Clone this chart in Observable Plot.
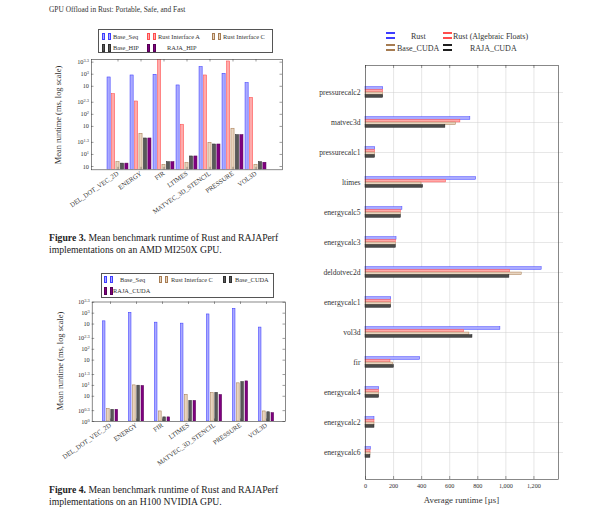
<!DOCTYPE html>
<html><head><meta charset="utf-8">
<script src="https://cdn.jsdelivr.net/npm/d3@7"></script>
<script src="https://cdn.jsdelivr.net/npm/@observablehq/plot@0.6"></script>
<style>
body{margin:0;background:#fff;}
#page{position:relative;width:600px;height:513px;overflow:hidden;background:#fff;font-family:"Liberation Serif","DejaVu Serif",serif;color:#222;}
.abs{position:absolute;white-space:nowrap;line-height:1;}
</style></head><body><div id="page"></div>
<script>
// ---------- data ----------
const fig3Cats = ["DEL_DOT_VEC_2D","ENERGY","FIR","LTIMES","MATVEC_3D_STENCIL","PRESSURE","VOL3D"];
const fig3Series = ["Base_Seq","Rust Interface A","Rust Interface C","Base_HIP","RAJA_HIP"];
const fig3BaseSeq = [830, 931, 969, 525, 1503, 1026, 600];
const fig3RustA   = [319, 209, 2600, 55, 931, 2080, 258];
const fig3RustC   = [6.4, 32.7, 5.5, 6.1, 19.5, 43.7, 5.5];
const fig3BaseHIP = [5.9, 25, 6.4, 8.9, 17.7, 30.3, 6.4];
const fig3RajaHIP = [5.9, 25, 6.4, 8.9, 17.7, 30.3, 6.2];
const fig3YTicks = [5, 10, 20, 50, 100, 200, 500, 1000, 2000];
const fig3YExps  = ["0.7","1","1.3","1.7","2","2.3","2.7","3","3.3"];

const fig4Cats = ["DEL_DOT_VEC_2D","ENERGY","FIR","LTIMES","MATVEC_3D_STENCIL","PRESSURE","VOL3D"];
const fig4Series = ["Base_Seq","Rust Interface C","Base_CUDA","RAJA_CUDA"];
const fig4BaseSeq  = [594, 1023, 546, 513, 922, 1315, 399];
const fig4RustC    = [2.2, 10, 1.9, 5.5, 6.1, 11.4, 1.9];
const fig4BaseCUDA = [2.1, 9.8, 1.3, 3.7, 6.2, 12.3, 1.8];
const fig4RajaCUDA = [2.1, 9.6, 1.3, 3.7, 5.4, 12.9, 1.7];
const fig4YTicks = [1, 2, 5, 10, 20, 50, 100, 200, 500, 1000, 2000];
const fig4YExps  = ["0","0.3","0.7","1","1.3","1.7","2","2.3","2.7","3","3.3"];

const kernels = ["pressurecalc2","matvec3d","pressurecalc1","ltimes","energycalc5","energycalc3","deldotvec2d","energycalc1","vol3d","fir","energycalc4","energycalc2","energycalc6"];
const rtSeries = ["Rust","Rust (Algebraic Floats)","Base_CUDA","RAJA_CUDA"];
const rtRust     = [126, 747, 69, 788, 263, 221, 1255, 183, 961, 389, 97, 64, 38];
const rtRustAF   = [126, 676, 69, 574, 252, 216, 1030, 183, 702, 178, 97, 64, 36];
const rtBaseCUDA = [126, 645, 68, 399, 252, 216, 1113, 183, 740, 197, 97, 64, 36];
const rtRajaCUDA = [126, 569, 68, 410, 252, 216, 1025, 183, 762, 202, 97, 64, 35];
const rtXTicks = [0, 200, 400, 600, 800, 1000, 1200];

// ---------- styles ----------
const FONT = '"Liberation Serif","DejaVu Serif",serif';
const BLUE = {fill:"#aaaaff", stroke:"#3d3dff"};
const RED = {fill:"#ffaaaa", stroke:"#ff4d4d"};
const TAN = {fill:"#e8d4bf", stroke:"#a67c52"};
const GRAY = {fill:"#595959", stroke:"#303030"};
const PURPLE = {fill:"#800080", stroke:"#550055"};
const DARK = {fill:"#4a4a4a", stroke:"#1f1f1f"};
const fig3Styles = [BLUE, RED, TAN, GRAY, PURPLE];
const fig4Styles = [BLUE, TAN, GRAY, PURPLE];
const rtStyles = [BLUE, RED, TAN, DARK];

const page = document.getElementById("page");

function txt(x, yc, s, size, opts = {}) {
  const d = document.createElement("div");
  d.className = "abs";
  d.style.left = x + "px"; d.style.top = yc + "px"; d.style.fontSize = size + "px";
  let tr = "translateY(-50%)";
  if (opts.center) tr = "translate(-50%,-50%)";
  if (opts.rotate) tr = "translate(-50%,-50%) rotate(-90deg)";
  d.style.transform = tr;
  d.style.color = opts.color || "#222";
  if (opts.html) d.innerHTML = s; else d.textContent = s;
  page.appendChild(d);
  return d;
}
function rect(x, y, w, h, st) {
  const d = document.createElement("div");
  d.style.cssText = `position:absolute;left:${x}px;top:${y}px;width:${w}px;height:${h}px;background:${st.fill};border:0.6px solid ${st.stroke};box-sizing:border-box;`;
  page.appendChild(d);
}
function box(x, y, w, h) {
  const d = document.createElement("div");
  d.style.cssText = `position:absolute;left:${x}px;top:${y}px;width:${w}px;height:${h}px;border:0.7px solid #555;box-sizing:border-box;`;
  page.appendChild(d);
}
function colIcon(x, yc, st) { rect(x, yc - 3.8, 3, 7.5, st); rect(x + 6, yc - 3.8, 3, 7.5, st); }
function rowIcon(x, yc, st) { rect(x, yc - 5, 8.5, 2.4, st); rect(x, yc - 0.2, 8.5, 2.4, st); }
function place(svg, left, top) {
  svg.style.position = "absolute"; svg.style.left = left + "px"; svg.style.top = top + "px";
  page.appendChild(svg);
}

function columnChart(cfg) {
  const {cats, values, styles, yDomain, yTicks, yExps, width, height, mL, mR, mT, mB, po, barW, gap} = cfg;
  const innerW = width - mL - mR, innerH = height - mT - mB;
  const step = innerW / (cats.length + 2 * po);
  const n = values.length, groupW = n * barW + (n - 1) * gap;
  const bars = values.map((vals, i) => {
    const il = (step - groupW) / 2 + i * (barW + gap);
    return Plot.barY(cats.map((c, j) => ({cat: c, v: vals[j]})), {
      x: "cat", y1: yDomain[0], y2: "v", fill: styles[i].fill, stroke: styles[i].stroke,
      strokeWidth: 0.55, insetLeft: il, insetRight: step - il - barW, clip: true
    });
  });
  const ts = {stroke: "#3a3a3a", strokeWidth: 0.5};
  const svg = Plot.plot({
    width, height, marginLeft: mL, marginRight: mR, marginTop: mT, marginBottom: mB,
    style: {fontFamily: FONT, fontSize: "6px", color: "#333", background: "transparent", overflow: "visible"},
    x: {type: "band", domain: cats, paddingInner: 0, paddingOuter: po},
    y: {type: "log", domain: yDomain},
    marks: [
      ...bars,
      Plot.ruleY(yTicks, {y: d => d, insetRight: innerW - 2.5, ...ts}),
      Plot.ruleY(yTicks, {y: d => d, insetLeft: innerW - 2.5, ...ts}),
      Plot.ruleX(cats, {x: d => d, insetTop: innerH - 2.5, ...ts}),
      Plot.ruleX(cats, {x: d => d, insetBottom: innerH - 2.5, ...ts}),
      Plot.frame({stroke: "#3a3a3a", strokeWidth: 0.6}),
      Plot.axisY({ticks: yTicks, tickSize: 0, tickPadding: 2.5, tickFormat: d => yExps[yTicks.indexOf(d)], fontSize: 6.3, label: null}),
      Plot.axisX({tickSize: 0, tickPadding: 3, tickRotate: -35, fontSize: 6.6, label: null})
    ]
  });
  d3.select(svg).selectAll('[aria-label="y-axis tick label"] text').each(function () {
    const t = d3.select(this);
    const e = t.text();
    t.text("10");
    t.append("tspan").attr("dy", "-0.45em").attr("font-size", "0.7em").text(e);
  });
  return svg;
}

function barChart(cfg) {
  const {cats, values, styles, xDomain, xTicks, width, height, mL, mR, mT, mB, po, barH} = cfg;
  const innerW = width - mL - mR, innerH = height - mT - mB;
  const step = innerH / (cats.length + 2 * po);
  const n = values.length, groupH = n * barH;
  const bars = values.map((vals, i) => {
    const it = (step - groupH) / 2 + i * barH;
    return Plot.barX(cats.map((c, j) => ({k: c, v: vals[j]})), {
      y: "k", x: "v", fill: styles[i].fill, stroke: styles[i].stroke, strokeWidth: 0.5,
      insetTop: it, insetBottom: step - it - barH
    });
  });
  const ts = {stroke: "#3a3a3a", strokeWidth: 0.5};
  const grid = {stroke: "#cfcfcf", strokeOpacity: 1, strokeWidth: 0.5};
  return Plot.plot({
    width, height, marginLeft: mL, marginRight: mR, marginTop: mT, marginBottom: mB,
    style: {fontFamily: FONT, fontSize: "7px", color: "#333", background: "transparent", overflow: "visible"},
    x: {domain: xDomain},
    y: {type: "band", domain: cats, paddingInner: 0, paddingOuter: po},
    marks: [
      Plot.gridX(xTicks, grid),
      Plot.gridY(cats, {...grid, insetRight: -5}),
      ...bars,
      Plot.ruleX(xTicks, {x: d => d, insetBottom: innerH - 3, ...ts}),
      Plot.ruleX(xTicks, {x: d => d, insetTop: innerH - 3, ...ts}),
      Plot.frame({stroke: "#3a3a3a", strokeWidth: 0.6}),
      Plot.axisY({tickSize: 0, tickPadding: 5, fontSize: 7.6, label: null}),
      Plot.axisX({ticks: xTicks, tickFormat: d3.format(","), tickSize: 0, tickPadding: 4, fontSize: 6.2, label: null})
    ]
  });
}

// ---------- header ----------
txt(49, 10, "GPU Offload in Rust: Portable, Safe, and Fast", 7.4, {color: "#333"});

// ---------- Figure 3 ----------
place(columnChart({
  cats: fig3Cats, values: [fig3BaseSeq, fig3RustA, fig3RustC, fig3BaseHIP, fig3RajaHIP], styles: fig3Styles,
  yDomain: [4.14, 2330], yTicks: fig3YTicks, yExps: fig3YExps,
  width: 300, height: 166, mL: 91, mR: 18, mT: 5, mB: 50.7, po: 0.5, barW: 4, gap: 0.45
}), 0, 54);
box(98, 29, 175, 24);
colIcon(102, 36.5, fig3Styles[0]); txt(113, 36.5, fig3Series[0], 6.4, {color: "#333"});
colIcon(147, 36.5, fig3Styles[1]); txt(158, 36.5, fig3Series[1], 6.4, {color: "#333"});
colIcon(212, 36.5, fig3Styles[2]); txt(223, 36.5, fig3Series[2], 6.4, {color: "#333"});
colIcon(102, 48, fig3Styles[3]); txt(113, 48, fig3Series[3], 6.4, {color: "#333"});
colIcon(147, 48, fig3Styles[4]); txt(167, 48, fig3Series[4], 6.4, {color: "#333"});
txt(59, 115, "Mean runtime (ms, log scale)", 8.4, {rotate: true, color: "#333"});
txt(49, 238.3, "<b>Figure 3.</b> Mean benchmark runtime of Rust and RAJAPerf", 9.7, {html: true});
txt(49, 250.3, "implementations on an AMD MI250X GPU.", 9.7);

// ---------- Figure 4 ----------
place(columnChart({
  cats: fig4Cats, values: [fig4BaseSeq, fig4RustC, fig4BaseCUDA, fig4RajaCUDA], styles: fig4Styles,
  yDomain: [1, 2040], yTicks: fig4YTicks, yExps: fig4YExps,
  width: 300, height: 176, mL: 91.7, mR: 15, mT: 5.5, mB: 51, po: 0.1, barW: 3.4, gap: 0.8
}), 0, 296);
box(101, 273, 173, 25);
colIcon(104, 279.5, fig4Styles[0]); txt(120, 279.5, fig4Series[0], 6.4, {color: "#333"});
colIcon(159, 279.5, fig4Styles[1]); txt(171, 279.5, fig4Series[1], 6.4, {color: "#333"});
colIcon(223, 279.5, fig4Styles[2]); txt(235, 279.5, fig4Series[2], 6.4, {color: "#333"});
colIcon(104, 291, fig4Styles[3]); txt(113, 291, fig4Series[3], 6.4, {color: "#333"});
txt(61, 361, "Mean runtime (ms, log scale)", 8.4, {rotate: true, color: "#333"});
txt(49, 490, "<b>Figure 4.</b> Mean benchmark runtime of Rust and RAJAPerf", 9.7, {html: true});
txt(49, 502, "implementations on an H100 NVIDIA GPU.", 9.7);

// ---------- Right chart ----------
place(barChart({
  cats: kernels, values: [rtRust, rtRustAF, rtBaseCUDA, rtRajaCUDA], styles: rtStyles,
  xDomain: [0, 1375], xTicks: rtXTicks,
  width: 300, height: 453, mL: 65, mR: 42, mT: 5, mB: 34, po: 0.38, barH: 2.65
}), 300, 60);
rowIcon(386, 36.7, rtStyles[0]); txt(411, 36.7, rtSeries[0], 8, {color: "#333"});
rowIcon(443, 36.7, rtStyles[1]); txt(453, 36.7, rtSeries[1], 8, {color: "#333"});
rowIcon(386, 49, rtStyles[2]); txt(397, 49, rtSeries[2], 8, {color: "#333"});
rowIcon(443, 49, rtStyles[3]); txt(470, 49, rtSeries[3], 8, {color: "#333"});
txt(461.5, 500, "Average runtime [µs]", 8.8, {center: true, color: "#333"});
</script></body></html>
